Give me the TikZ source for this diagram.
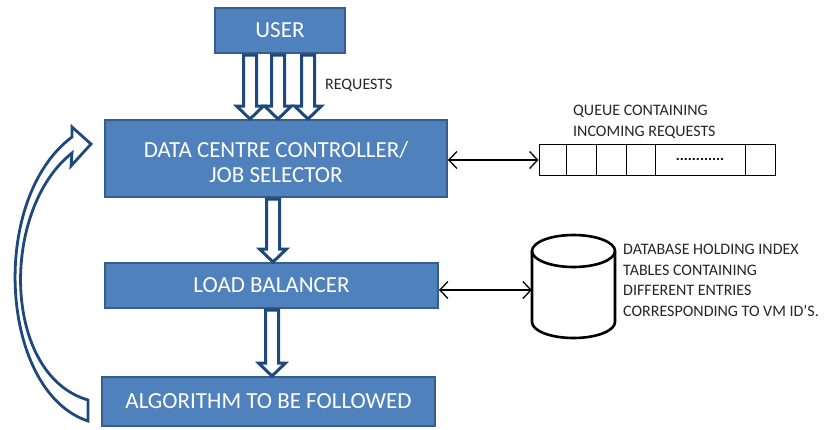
\documentclass[tikz,border=0pt]{standalone}
\usepackage{fontspec}
\setmainfont{Carlito}
\usetikzlibrary{calc,arrows.meta}
\definecolor{boxfill}{HTML}{4F81BD}
\definecolor{boxline}{HTML}{385D8A}
\definecolor{arrline}{HTML}{1F487C}
\tikzset{
  bluebox/.style={draw=boxline,line width=2pt,fill=boxfill,text=white,
    font=\fontsize{23}{25}\selectfont,align=center,inner sep=0pt},
  boxtext/.style={text=white,font=\fontsize{23}{25}\selectfont,align=center,inner sep=0pt},
  blk/.style={draw=arrline,line width=3pt,fill=white,line join=miter},
  lbl/.style={font=\fontsize{16}{20.5}\selectfont,align=left,inner sep=0pt,text=black!85},
  dbl/.style={<->,line width=1.3pt,>={Straight Barb[length=8pt,width=17pt]}},
  dbline/.style={line width=2.6pt,draw=black},
}
\newcommand\hollowdown[2]{%
  \draw[blk] let \p1=#1, \p2=#2 in
   (\x1-6.5pt,\y1) -- (\x1-6.5pt,\y2+13pt) -- (\x1-13.5pt,\y2+13pt) -- (\x1,\y2)
   -- (\x1+13.5pt,\y2+13pt) -- (\x1+6.5pt,\y2+13pt) -- (\x1+6.5pt,\y1) -- cycle;}
\begin{document}
\begin{tikzpicture}[x=1pt,y=-1pt]
\useasboundingbox[fill=white] (0,0) rectangle (834,429);
% boxes
\node[bluebox,minimum width=130pt,minimum height=45pt] (user) at (280,30.5) {USER};
\node[bluebox,minimum width=342pt,minimum height=77pt] (dcc) at (276,158.5) {};
\node[boxtext] (dcctext) at (276,162) {DATA CENTRE CONTROLLER/\\JOB SELECTOR};
\node[bluebox,minimum width=333pt,minimum height=45pt] (lb) at (271.5,285.5) {LOAD BALANCER};
\node[bluebox,minimum width=333pt,minimum height=49pt] (alg) at (268.5,401.5) {ALGORITHM TO BE FOLLOWED};
% request arrows
\hollowdown{($(user.south)+(-30,1)$)}{(dcc.north)}
\hollowdown{($(user.south)+(-2,1)$)}{(dcc.north)}
\hollowdown{($(user.south)+(28,1)$)}{(dcc.north)}
\node[lbl,anchor=west] (req) at (325,85) {REQUESTS};
% down arrows
\hollowdown{($(dcc.south)+(-3,1)$)}{(lb.north)}
\hollowdown{($(lb.south)+(0.5,1)$)}{(alg.north)}
% queue
\node[draw,line width=1pt,minimum width=236pt,minimum height=31pt,inner sep=0pt] (queue) at (657,159.5) {};
\foreach \xx in {566,596,626,655,745} \draw[line width=1pt] (\xx,144) -- (\xx,175);
\node[inner sep=0pt,font=\bfseries\fontsize{15}{18}\selectfont] (dots) at (700,159) {............};
\node[lbl,anchor=north west] (qlbl) at (573,105) {QUEUE CONTAINING\\INCOMING REQUESTS};
\draw[dbl] (dcc.east |- 0,160) -- (queue.west |- 0,160);
% database
\node[minimum width=83pt,minimum height=104pt,inner sep=0pt] (db) at (573.5,286.5) {};
\draw[dbline] (573.5,251) ellipse[x radius=41.5,y radius=16];
\draw[dbline] (532,251) -- (532,322) arc[start angle=180,end angle=0,x radius=41.5,y radius=16] -- (615,251);
\node[lbl,anchor=north west] (dblbl) at (623,244) {DATABASE HOLDING INDEX\\TABLES CONTAINING\\DIFFERENT ENTRIES\\CORRESPONDING TO VM ID'S.};
\draw[dbl] (lb.east |- 0,290) -- (db.west |- 0,290);
% curved feedback arrow
\draw[blk,line width=2.8pt] (88,421) coordinate (cb)
  .. controls (0,392) and (-12,200) .. (72,137)
  -- (72,127) -- (91,144) coordinate (ctip) -- (71,166) -- (72,153)
  .. controls (0,210) and (2,375) .. (88,400) -- cycle;
\end{tikzpicture}
\end{document}
